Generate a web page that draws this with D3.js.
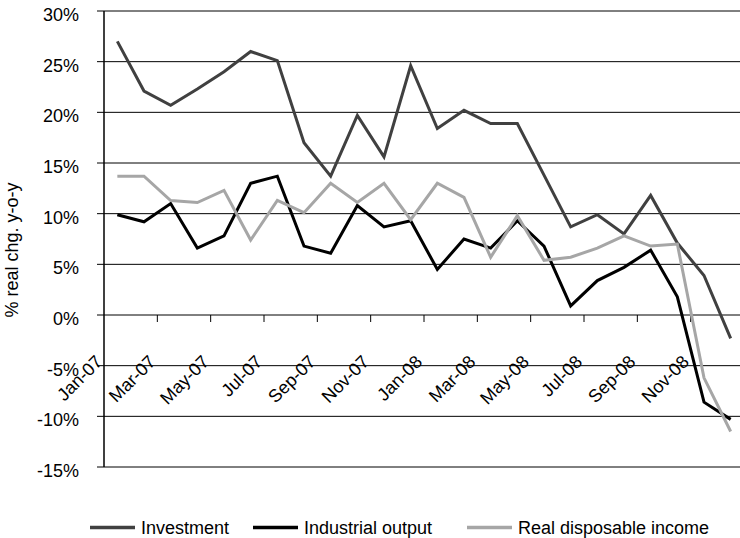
<!DOCTYPE html>
<meta charset="UTF-8">
<html>
<head>
<style>
  body { margin: 0; background: #fff; }
  svg text { font-family: "Liberation Sans", Arial, sans-serif; font-size: 18px; fill: #000; }
</style>
</head>
<body>
<svg width="740" height="538"></svg>
<script src="https://d3js.org/d3.v7.min.js"></script>
<script>

// Months, Jan-07 .. Dec-08
var months = ["Jan-07","Feb-07","Mar-07","Apr-07","May-07","Jun-07","Jul-07","Aug-07","Sep-07","Oct-07","Nov-07","Dec-07",
              "Jan-08","Feb-08","Mar-08","Apr-08","May-08","Jun-08","Jul-08","Aug-08","Sep-08","Oct-08","Nov-08","Dec-08"];

// % real chg. y-o-y
var investment = [27.0, 22.1, 20.7, 22.3, 24.0, 26.0, 25.1, 17.0, 13.7, 19.7, 15.6, 24.6,
                  18.4, 20.2, 18.9, 18.9, 13.8, 8.7, 9.9, 8.0, 11.8, 7.1, 3.9, -2.3];
var industrial = [9.9, 9.2, 11.0, 6.6, 7.8, 13.0, 13.7, 6.8, 6.1, 10.8, 8.7, 9.3,
                  4.5, 7.5, 6.6, 9.3, 6.8, 0.9, 3.4, 4.7, 6.4, 1.8, -8.6, -10.3];
var disposable = [13.7, 13.7, 11.3, 11.1, 12.3, 7.4, 11.3, 10.1, 13.0, 11.1, 13.0, 9.4,
                  13.0, 11.6, 5.7, 9.8, 5.4, 5.7, 6.6, 7.8, 6.8, 7.0, -6.2, -11.5];

var yTicks = [-15, -10, -5, 0, 5, 10, 15, 20, 25, 30];

var seriesNames = ["Investment", "Industrial output", "Real disposable income"];
var seriesColors = ["#404040", "#000000", "#a6a6a6"];

var svg = d3.select("svg");

var plotLeft = 104, plotRight = 744, plotTop = 11, plotBottom = 467;

var x = d3.scalePoint().domain(months).range([plotLeft, plotRight]).padding(0.5);
var y = d3.scaleLinear().domain([-15, 30]).range([plotBottom, plotTop]);
var step = x.step();

// horizontal grid lines with small ticks left of the axis
svg.append("g").selectAll("line")
    .data(yTicks)
    .enter().append("line")
    .attr("x1", plotLeft - 7).attr("x2", plotRight)
    .attr("y1", function(d) { return y(d); })
    .attr("y2", function(d) { return y(d); })
    .attr("stroke", "#000").attr("stroke-width", 1);

// y tick labels
svg.append("g").selectAll("text")
    .data(yTicks)
    .enter().append("text")
    .attr("x", 79)
    .attr("y", function(d) { return y(d) + 10; })
    .attr("text-anchor", "end")
    .text(function(d) { return d + "%"; });

// y axis line
svg.append("line")
    .attr("x1", plotLeft).attr("x2", plotLeft)
    .attr("y1", plotTop).attr("y2", plotBottom)
    .attr("stroke", "#000").attr("stroke-width", 1.5);

// category ticks on the zero line, every second month
var tickIdx = d3.range(2, 24, 2);
svg.append("g").selectAll("line")
    .data(tickIdx)
    .enter().append("line")
    .attr("x1", function(i) { return plotLeft + i * step; })
    .attr("x2", function(i) { return plotLeft + i * step; })
    .attr("y1", y(0)).attr("y2", y(0) + 7)
    .attr("stroke", "#000").attr("stroke-width", 1);

// x labels, rotated
svg.append("g").selectAll("text")
    .data(months.filter(function(d, i) { return i % 2 == 0; }))
    .enter().append("text")
    .attr("text-anchor", "end")
    .attr("transform", function(d) { return "translate(" + (x(d) - 14) + ",363) rotate(-45)"; })
    .text(function(d) { return d; });

// y axis title
svg.append("text")
    .attr("text-anchor", "middle")
    .attr("transform", "translate(18,250) rotate(-90)")
    .text("% real chg. y-o-y");

// series lines
var line = d3.line()
    .x(function(d, i) { return x(months[i]); })
    .y(function(d) { return y(d); });

[investment, industrial, disposable].forEach(function(s, k) {
    svg.append("path")
        .datum(s)
        .attr("d", line)
        .attr("fill", "none")
        .attr("stroke", seriesColors[k])
        .attr("stroke-width", 3)
        .attr("stroke-linejoin", "miter");
});

// legend
var legendX = [90, 253, 467];
var legend = svg.append("g").selectAll("g")
    .data(seriesNames)
    .enter().append("g")
    .attr("transform", function(d, i) { return "translate(" + legendX[i] + ",0)"; });

legend.append("line")
    .attr("x1", 0).attr("x2", 45)
    .attr("y1", 527.5).attr("y2", 527.5)
    .attr("stroke", function(d, i) { return seriesColors[i]; })
    .attr("stroke-width", 3.5);

legend.append("text")
    .attr("x", 51)
    .attr("y", 533.5)
    .text(function(d) { return d; });

</script>
</body>
</html>
